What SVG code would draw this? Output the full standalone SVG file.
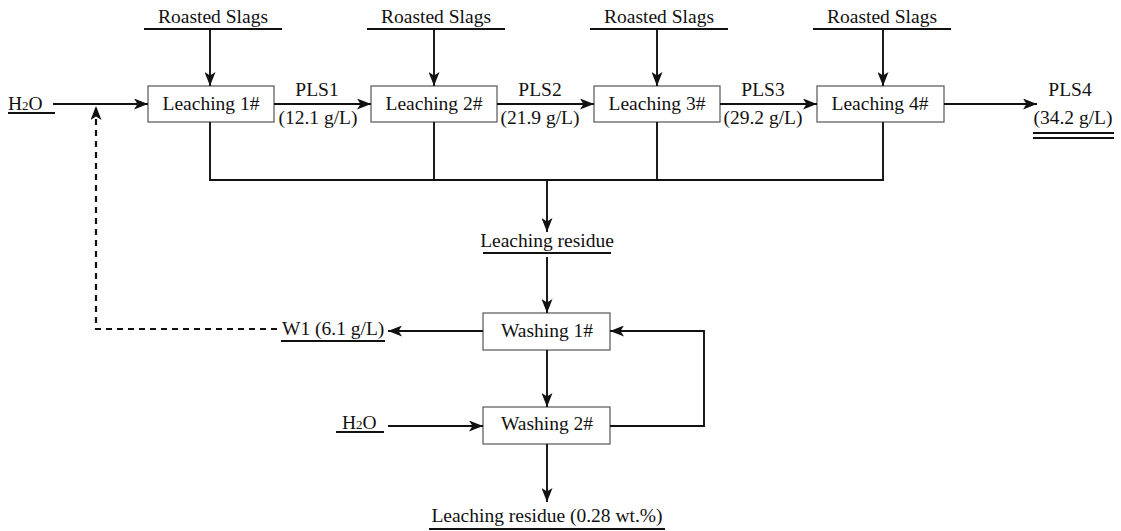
<svg xmlns="http://www.w3.org/2000/svg" width="1121" height="531" viewBox="0 0 1121 531">
  <style>
    text { font-family: "Liberation Serif", "Times New Roman", serif; font-size: 19.5px; fill: #111; }
    .c { text-anchor: middle; }
    .box { fill: #fff; stroke: #555; stroke-width: 1.2; }
    .ln { fill: none; stroke: #111; stroke-width: 1.9; }
    .ul { stroke: #111; stroke-width: 2.2; }
    .dash { fill: none; stroke: #111; stroke-width: 2.2; stroke-dasharray: 6 5; }
    .sub { font-size: 13px; }
  </style>
  <defs>
    <marker id="arr" viewBox="0 0 14 11" refX="14" refY="5.5" markerWidth="14" markerHeight="11" markerUnits="userSpaceOnUse" orient="auto">
      <path d="M0,0 L14,5.5 L0,11 L3.5,5.5 z" fill="#111"/>
    </marker>
  </defs>

  <!-- feed labels -->
  <g id="feeds">
    <text class="c" x="213" y="23">Roasted Slags</text>
    <line class="ul" x1="144" y1="29" x2="282" y2="29"/>
    <text class="c" x="436" y="23">Roasted Slags</text>
    <line class="ul" x1="367" y1="29" x2="505" y2="29"/>
    <text class="c" x="659" y="23">Roasted Slags</text>
    <line class="ul" x1="590" y1="29" x2="728" y2="29"/>
    <text class="c" x="882" y="23">Roasted Slags</text>
    <line class="ul" x1="813" y1="29" x2="951" y2="29"/>
    <text x="8" y="110">H<tspan class="sub">2</tspan>O</text>
    <line class="ul" x1="8" y1="113" x2="55" y2="113"/>
  </g>

  <!-- leaching stages -->
  <g id="leach1"><rect class="box" x="148" y="86" width="126" height="36"/><text class="c" x="211" y="110">Leaching 1#</text></g>
  <g id="leach2"><rect class="box" x="371" y="86" width="126" height="36"/><text class="c" x="434" y="110">Leaching 2#</text></g>
  <g id="leach3"><rect class="box" x="594" y="86" width="126" height="36"/><text class="c" x="657" y="110">Leaching 3#</text></g>
  <g id="leach4"><rect class="box" x="817" y="86" width="127" height="36"/><text class="c" x="880" y="110">Leaching 4#</text></g>

  <!-- stream labels -->
  <g id="streams">
    <text class="c" x="317" y="96">PLS1</text>
    <text class="c" x="318" y="124">(12.1 g/L)</text>
    <text class="c" x="540" y="96">PLS2</text>
    <text class="c" x="540" y="124">(21.9 g/L)</text>
    <text class="c" x="763" y="96">PLS3</text>
    <text class="c" x="763" y="124">(29.2 g/L)</text>
    <text class="c" x="1070" y="96">PLS4</text>
    <text class="c" x="1073" y="124">(34.2 g/L)</text>
    <line class="ul" x1="1033" y1="133" x2="1114" y2="133"/>
    <line class="ul" x1="1033" y1="138" x2="1114" y2="138"/>
  </g>

  <!-- residue label -->
  <g id="residue">
    <text class="c" x="547" y="247">Leaching residue</text>
    <line class="ul" x1="483" y1="253" x2="611" y2="253"/>
  </g>

  <!-- washing stages -->
  <g id="wash1"><rect class="box" x="483" y="313" width="127" height="37"/><text class="c" x="547" y="337">Washing 1#</text></g>
  <g id="wash2"><rect class="box" x="483" y="407" width="127" height="37"/><text class="c" x="547" y="430">Washing 2#</text></g>

  <g id="wash-streams">
    <text x="282" y="335">W1 (6.1 g/L)</text>
    <line class="ul" x1="281" y1="341" x2="385" y2="341"/>
    <text x="342" y="429">H<tspan class="sub">2</tspan>O</text>
    <line class="ul" x1="336" y1="432" x2="384" y2="432"/>
    <text class="c" x="547" y="522">Leaching residue (0.28 wt.%)</text>
    <line class="ul" x1="429" y1="529" x2="665" y2="529"/>
  </g>

  <!-- connectors -->
  <g id="connectors">
    <line class="ln" x1="210" y1="29" x2="210" y2="86" marker-end="url(#arr)"/>
    <line class="ln" x1="434" y1="29" x2="434" y2="86" marker-end="url(#arr)"/>
    <line class="ln" x1="657" y1="29" x2="657" y2="86" marker-end="url(#arr)"/>
    <line class="ln" x1="883" y1="29" x2="883" y2="86" marker-end="url(#arr)"/>
    <line class="ln" x1="53" y1="104" x2="148" y2="104" marker-end="url(#arr)"/>
    <line class="ln" x1="274" y1="104" x2="371" y2="104" marker-end="url(#arr)"/>
    <line class="ln" x1="497" y1="104" x2="594" y2="104" marker-end="url(#arr)"/>
    <line class="ln" x1="720" y1="104" x2="817" y2="104" marker-end="url(#arr)"/>
    <line class="ln" x1="944" y1="104" x2="1037" y2="104" marker-end="url(#arr)"/>
    <path class="ln" d="M210,122 V180 H883 V122 M434,122 V180 M657,122 V180"/>
    <line class="ln" x1="547" y1="180" x2="547" y2="232" marker-end="url(#arr)"/>
    <line class="ln" x1="547" y1="257" x2="547" y2="313" marker-end="url(#arr)"/>
    <line class="ln" x1="483" y1="331" x2="388" y2="331" marker-end="url(#arr)"/>
    <line class="ln" x1="547" y1="350" x2="547" y2="407" marker-end="url(#arr)"/>
    <line class="ln" x1="388" y1="426" x2="483" y2="426" marker-end="url(#arr)"/>
    <path class="ln" d="M610,426 H704 V331 H610" marker-end="url(#arr)"/>
    <line class="ln" x1="547" y1="444" x2="547" y2="502" marker-end="url(#arr)"/>
    <path class="dash" d="M277,329 H96 V106" marker-end="url(#arr)"/>
  </g>
</svg>
